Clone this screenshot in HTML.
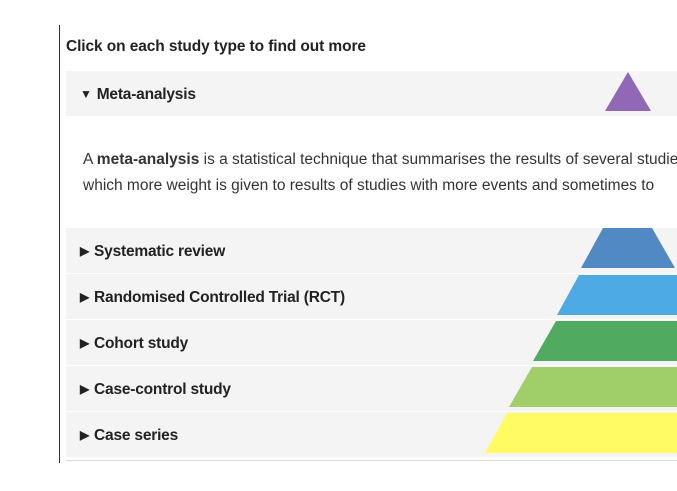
<!DOCTYPE html>
<html><head><style>
body{margin:0;width:677px;height:491px;background:#fff;position:relative;overflow:hidden;font-family:"Liberation Sans",sans-serif;color:#222}
.vl{position:absolute;left:59px;top:25px;width:1px;height:438px;background:#333}
.t{position:absolute;left:66px;top:38px;font-weight:bold;font-size:15.5px;letter-spacing:-0.1px}
.row{position:absolute;left:66px;width:611px;height:45px;background:#f4f4f4}
.lab{position:absolute;left:14px;top:15px;font-weight:bold;font-size:15.5px;white-space:nowrap;letter-spacing:-0.2px}
.lab i{font-style:normal;font-size:12px;position:relative;top:-1px;margin-right:5px}
.p{position:absolute;left:83px;font-size:15.5px;white-space:nowrap;color:#333}
svg{position:absolute;left:0;top:0}
</style></head><body>
<div class="vl"></div>
<div class="t">Click on each study type to find out more</div>
<div class="row" style="top:71px"><div class="lab"><i>▼</i>Meta-analysis</div></div>
<div class="p" style="top:151px">A <b>meta-analysis</b> is a statistical technique that summarises the results of several studies</div>
<div class="p" style="top:177px">which more weight is given to results of studies with more events and sometimes to</div>
<div class="row" style="top:228px"><div class="lab"><i>▶</i>Systematic review</div></div>
<div class="row" style="top:274px"><div class="lab"><i>▶</i>Randomised Controlled Trial (RCT)</div></div>
<div class="row" style="top:320px"><div class="lab"><i>▶</i>Cohort study</div></div>
<div class="row" style="top:366px"><div class="lab"><i>▶</i>Case-control study</div></div>
<div class="row" style="top:412px"><div class="lab"><i>▶</i>Case series</div></div>
<div style="position:absolute;left:66px;top:460px;width:611px;height:1px;background:#ddd"></div>
<svg width="677" height="491">
<polygon points="628,72 651,111 605,111" fill="#9068b6"/>
<polygon points="603,228 652,228 675,268 581,268" fill="#5189c4"/>
<polygon points="579,275 677,275 677,315 557,315" fill="#4eaae4"/>
<polygon points="556,321 677,321 677,361 533,361" fill="#50ab61"/>
<polygon points="532,367 677,367 677,407 509,407" fill="#a0ce69"/>
<polygon points="507,413 677,413 677,453 485,453" fill="#fefc62"/>
</svg>
</body></html>
